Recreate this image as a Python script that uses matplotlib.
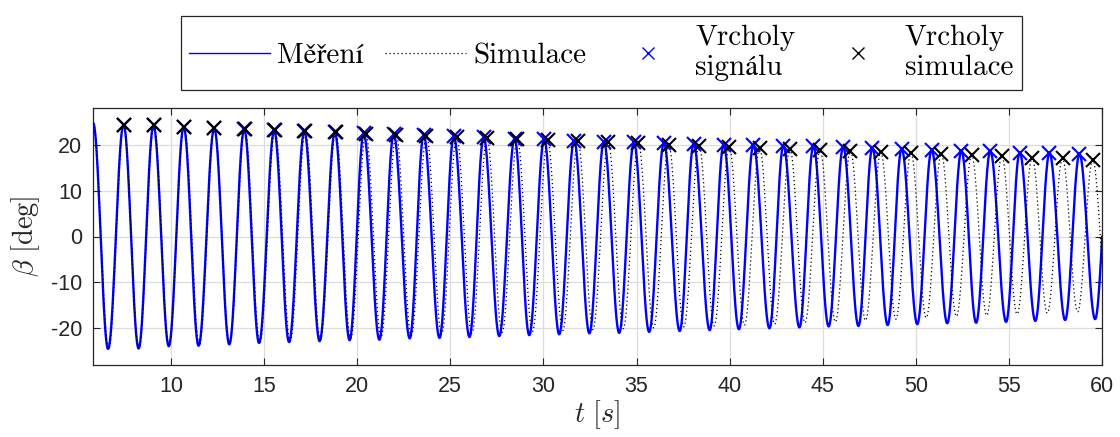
import numpy as np
import matplotlib
matplotlib.use("Agg")
import matplotlib.pyplot as plt
from matplotlib.lines import Line2D

# ---------------- data ----------------
# measured signal: marked peaks (time [s], value [deg])
meas_peak_t = [7.45, 9.06, 10.68, 12.32, 13.93, 15.54, 17.16, 18.80, 20.35, 21.96,
               23.57, 25.19, 26.79, 28.45, 30.04, 31.65, 33.25, 34.86, 36.47, 38.07,
               39.68, 41.28, 42.89, 44.50, 46.10, 47.67, 49.24, 50.85, 52.45, 54.00,
               55.58, 57.18, 58.79]
meas_peak_v = [24.4, 24.2, 23.9, 23.6, 23.4, 23.1, 22.9, 22.7, 22.5, 22.3,
               22.1, 21.8, 21.6, 21.3, 21.2, 20.9, 20.7, 20.5, 20.4, 20.2,
               20.0, 19.9, 19.8, 19.7, 19.5, 19.3, 19.1, 18.9, 18.7, 18.6,
               18.3, 18.2, 18.0]
# measured signal: troughs
meas_trough_t = [6.62, 8.26, 9.88, 11.48, 13.13, 14.73, 16.34, 17.98, 19.59, 21.19,
                 22.82, 24.42, 26.03, 27.63, 29.24, 30.85, 32.47, 34.07, 35.68, 37.32,
                 38.93, 40.50, 42.14, 43.75, 45.32, 46.92, 48.49, 50.08, 51.69, 53.24,
                 54.85, 56.42, 58.02, 59.63]
meas_trough_v = [-24.5, -24.4, -23.9, -23.8, -23.5, -23.2, -23.0, -22.8, -22.6, -22.5,
                 -22.2, -22.1, -21.9, -21.7, -21.5, -21.3, -21.1, -21.0, -20.8, -20.6,
                 -20.4, -20.2, -20.0, -19.8, -19.6, -19.5, -19.3, -19.1, -18.9, -18.8,
                 -18.6, -18.4, -18.2, -18.0]
# measured signal: unmarked extrema at the window edges
meas_edge_t = [5.82, 60.39]
meas_edge_v = [24.7, 17.9]

# simulation: marked peaks
sim_peak_t = [7.45, 9.08, 10.70, 12.33, 13.96, 15.58, 17.21, 18.84, 20.46, 22.09,
              23.72, 25.34, 26.97, 28.60, 30.22, 31.85, 33.48, 35.10, 36.73, 38.36,
              39.98, 41.61, 43.24, 44.86, 46.49, 48.12, 49.74, 51.37, 53.00, 54.62,
              56.25, 57.88, 59.50]
sim_peak_v = [24.4, 24.2, 23.9, 23.6, 23.4, 23.1, 22.9, 22.7, 22.4, 22.2,
              22.0, 21.7, 21.4, 21.2, 21.0, 20.8, 20.5, 20.3, 20.0, 19.8,
              19.5, 19.3, 19.1, 18.9, 18.7, 18.4, 18.2, 18.0, 17.7, 17.5,
              17.2, 17.0, 16.7]
# simulation: troughs
sim_trough_t = [6.65, 8.27, 9.89, 11.52, 13.14, 14.77, 16.40, 18.02, 19.65, 21.28,
                22.90, 24.53, 26.16, 27.78, 29.41, 31.04, 32.66, 34.29, 35.92, 37.54,
                39.17, 40.80, 42.42, 44.05, 45.68, 47.30, 48.93, 50.56, 52.18, 53.81,
                55.44, 57.06, 58.69, 60.31]
sim_trough_v = [-24.5, -24.4, -23.9, -23.7, -23.4, -23.1, -22.8, -22.5, -22.2, -21.9,
                -21.6, -21.3, -21.1, -20.9, -20.7, -20.5, -20.3, -20.1, -19.9, -19.7,
                -19.5, -19.3, -19.1, -18.8, -18.6, -18.3, -18.0, -17.7, -17.4, -17.2,
                -16.9, -16.7, -16.4, -16.2]
sim_edge_t = [5.82]
sim_edge_v = [24.7]

x_ticks = [10, 15, 20, 25, 30, 35, 40, 45, 50, 55, 60]
y_ticks = [-20, -10, 0, 10, 20]
y_tick_labels = ["-20", "-10", "0", "10", "20"]

legend_labels = ["Měření", "Simulace", "Vrcholy\nsignálu", "Vrcholy\nsimulace"]


def through_extrema(*pairs, n=40):
    """Smooth curve passing through the read extrema (half-cosine between them)."""
    t = np.concatenate([np.asarray(a, float) for a in pairs[0::2]])
    v = np.concatenate([np.asarray(b, float) for b in pairs[1::2]])
    o = np.argsort(t)
    t, v = t[o], v[o]
    ts, vs = [], []
    s = np.linspace(0, 1, n, endpoint=False)
    for i in range(len(t) - 1):
        ts.append(t[i] + (t[i + 1] - t[i]) * s)
        vs.append(v[i] + (v[i + 1] - v[i]) * (1 - np.cos(np.pi * s)) / 2)
    ts.append([t[-1]])
    vs.append([v[-1]])
    return np.concatenate(ts), np.concatenate(vs)


meas_t, meas_v = through_extrema(meas_peak_t, meas_peak_v, meas_trough_t, meas_trough_v,
                                 meas_edge_t, meas_edge_v)
sim_t, sim_v = through_extrema(sim_peak_t, sim_peak_v, sim_trough_t, sim_trough_v,
                               sim_edge_t, sim_edge_v)

# ---------------- figure ----------------
plt.rcParams["mathtext.fontset"] = "cm"
tick_color = "#262626"

fig = plt.figure(figsize=(11.2, 4.37), dpi=100)
ax = fig.add_axes([93 / 1120, 1 - 365 / 437, (1102 - 93) / 1120, (365 - 108) / 437])

ax.plot(meas_t, meas_v, color="#0000ff", lw=1.7, zorder=3)
ax.plot(sim_t, sim_v, color="black", lw=0.9, ls=(0, (1, 2.2)), zorder=4)
ax.plot(meas_peak_t, meas_peak_v, ls="none", marker="x", color="#0000ff",
        ms=9.5, mew=1.5, zorder=5)
ax.plot(sim_peak_t, sim_peak_v, ls="none", marker="x", color="black",
        ms=9.5, mew=1.5, zorder=6)

ax.set_xlim(5.81, 60)
ax.set_ylim(-28, 28)
ax.set_xticks(x_ticks)
ax.set_yticks(y_ticks)
ax.set_yticklabels(y_tick_labels)
ax.grid(True, color="#dcdcdc", lw=0.9)
ax.set_axisbelow(True)
ax.tick_params(direction="in", length=5, width=0.8, top=True, right=True,
               colors=tick_color, labelsize=15.5, pad=8)
for lab in ax.get_xticklabels() + ax.get_yticklabels():
    lab.set_family("Liberation Sans")
for sp in ax.spines.values():
    sp.set_color(tick_color)
    sp.set_linewidth(0.9)

ax.set_xlabel(r"$t\ [s]$", fontsize=20.5, color=tick_color, labelpad=1)
ax.set_ylabel(r"$\beta\ [\mathrm{deg}]$", fontsize=20.5, color=tick_color, labelpad=6)

handles = [
    Line2D([], [], color="#0000ff", lw=1.0),
    Line2D([], [], color="black", lw=0.9, ls=(0, (1, 2.2))),
    Line2D([], [], ls="none", marker="x", color="#0000ff", ms=8, mew=1.0),
    Line2D([], [], ls="none", marker="x", color="black", ms=8, mew=1.0),
]
leg = fig.legend(handles, legend_labels, loc="center", bbox_to_anchor=(0.537, 0.879),
                 ncol=4, frameon=True, fancybox=False, framealpha=1,
                 edgecolor=tick_color, handlelength=2.75, handletextpad=0.25,
                 columnspacing=0.75, borderpad=0.3, labelspacing=0.2,
                 prop={"family": ["cmr10", "STIXGeneral"], "size": 21})
leg.get_frame().set_linewidth(0.9)

fig.savefig("out.png", dpi=100)
